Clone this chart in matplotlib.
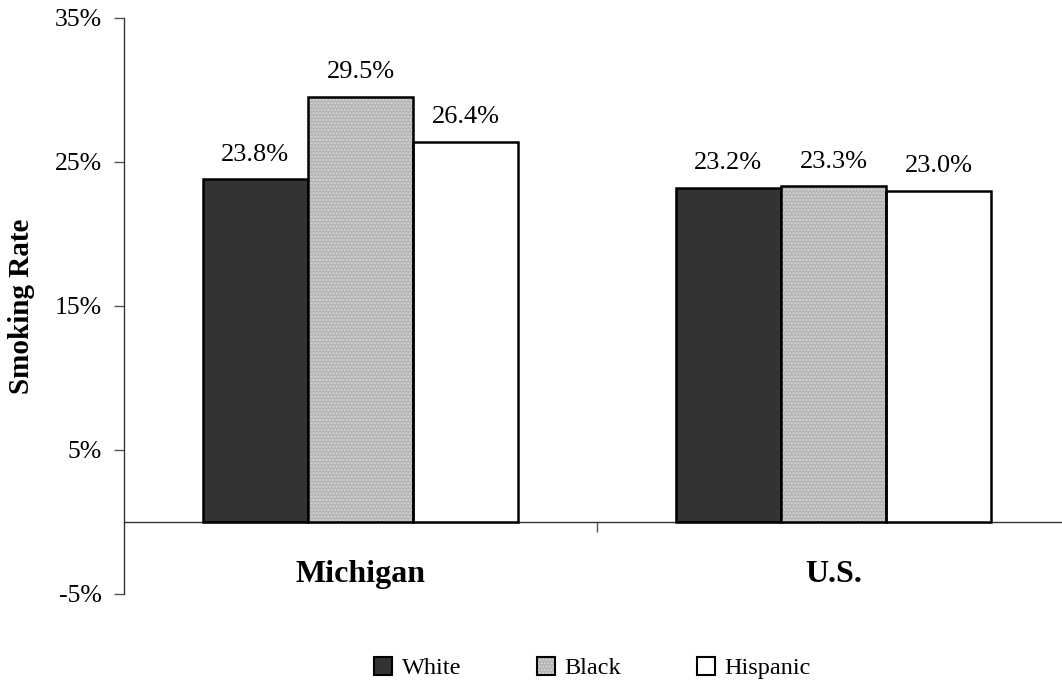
import numpy as np
import matplotlib
matplotlib.use("Agg")
import matplotlib.pyplot as plt
from matplotlib.patches import Patch

plt.rcParams['font.family'] = ['Liberation Serif', 'DejaVu Serif']

regions = ['Michigan', 'U.S.']
groups = ['White', 'Black', 'Hispanic']
white = [23.8, 23.2]
black = [29.5, 23.3]
hispanic = [26.4, 23.0]
y_ticks = [-5, 5, 15, 25, 35]

fig = plt.figure(figsize=(10.62, 6.89), dpi=100)
# axes run past the right edge a little, like the original sheet
ax = fig.add_axes([124 / 1062, 1 - 594 / 689, (1062 - 124) / 1062, 576 / 689])

x = np.arange(len(regions))
w = 1 / 4.5
series = [white, black, hispanic]
offsets = [-w, 0, w]

# dark, dotted grey and white fills
ax.bar(x - w, white, w, color='#333333', edgecolor='black', linewidth=1.8, zorder=3)
ax.bar(x, black, w, color='#b4b4b4', edgecolor='#d8d8d8', hatch='.....', linewidth=0, zorder=3)
ax.bar(x, black, w, fill=False, edgecolor='black', linewidth=1.8, zorder=4)
ax.bar(x + w, hispanic, w, color='white', edgecolor='black', linewidth=1.8, zorder=3)

for vals, off in zip(series, offsets):
    for xi, v in zip(x, vals):
        ax.text(xi + off, v + 1.3, f'{v:.1f}%', ha='center', va='baseline', fontsize=19)

for xi, name in zip(x, regions):
    ax.text(xi, -4.17, name, ha='center', va='baseline', fontsize=23, fontweight='bold')

ax.set_xlim(-0.5, -0.5 + (1062 - 124) / 473)
ax.set_ylim(-5, 35)
ax.set_yticks(y_ticks)
ax.set_yticklabels([f'{t}%' for t in y_ticks], fontsize=18.5)
ax.set_xticks([0.5])
ax.set_xticklabels([''])
ax.tick_params(axis='both', direction='out', length=7.5, width=1, color='#555555', pad=8.5)
ax.spines['top'].set_visible(False)
ax.spines['right'].set_visible(False)
ax.spines['bottom'].set_position(('data', 0))
for s in ['left', 'bottom']:
    ax.spines[s].set_linewidth(1)
    ax.spines[s].set_color('#333333')
ax.set_ylabel('Smoking Rate', fontsize=21, fontweight='bold')
ax.yaxis.set_label_coords(-0.095, 0.5)

outline = Patch(facecolor='none', edgecolor='black', linewidth=1.5)
handles = [
    Patch(facecolor='#333333', edgecolor='black', linewidth=1.5),
    (Patch(facecolor='#b4b4b4', edgecolor='#d8d8d8', hatch='.....', linewidth=0), outline),
    Patch(facecolor='white', edgecolor='black', linewidth=1.5),
]
fig.legend(handles, groups, loc='center', bbox_to_anchor=(0.558, 0.03), ncol=3,
           frameon=False, fontsize=17.5, handlelength=0.74, handleheight=0.74,
           handletextpad=0.4, columnspacing=3.1)

fig.savefig('out.png', dpi=100)
